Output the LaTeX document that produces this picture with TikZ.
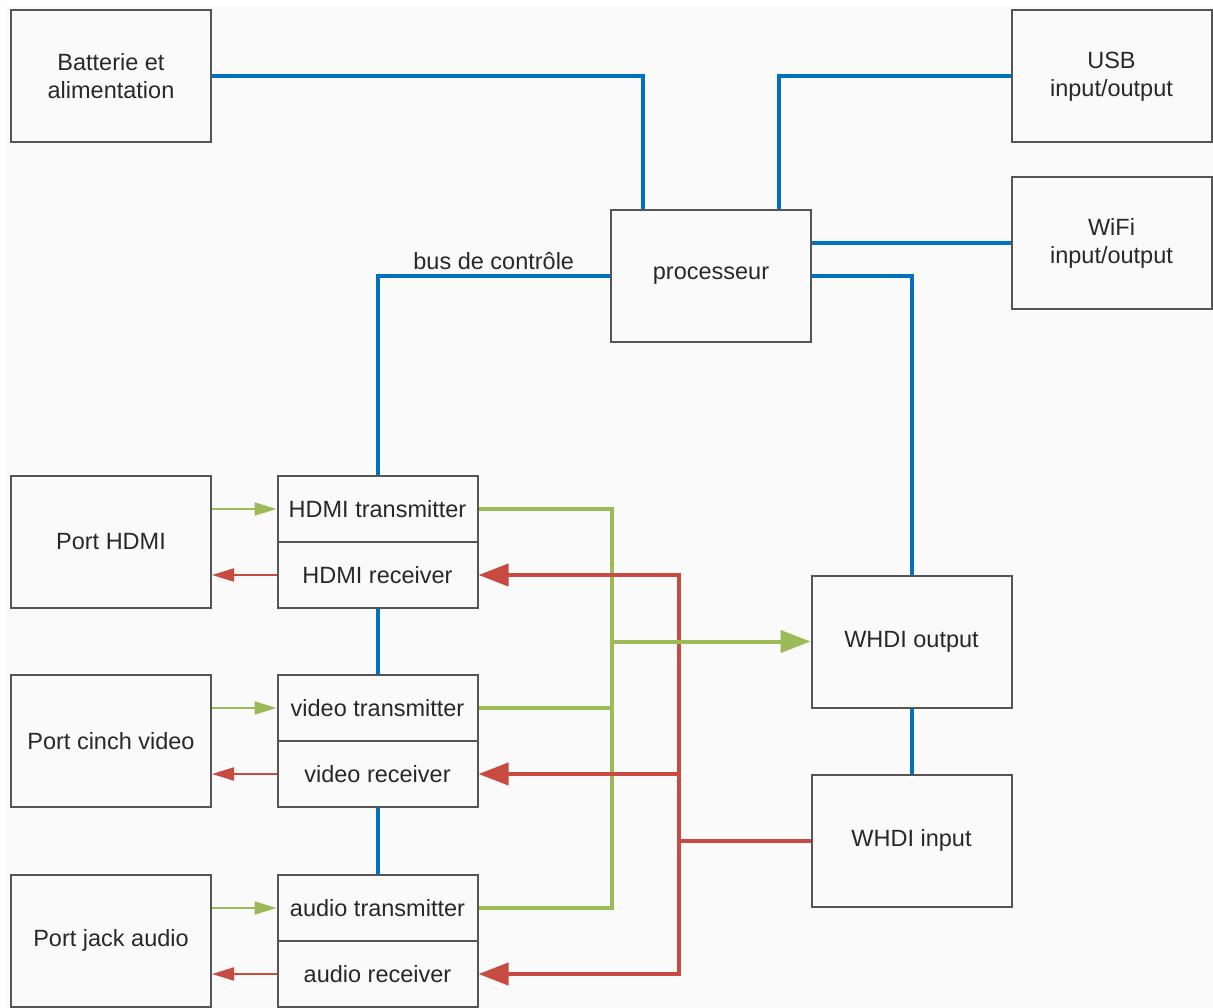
\documentclass[tikz,border=0pt]{standalone}
\usepackage{fontspec}
\setmainfont{Liberation Sans}
\usetikzlibrary{arrows.meta}
\definecolor{busblue}{RGB}{0,112,192}
\definecolor{sigred}{RGB}{200,75,65}
\definecolor{siggreen}{RGB}{155,187,89}
\definecolor{boxgray}{RGB}{85,85,85}
\definecolor{bggray}{RGB}{250,250,250}
\definecolor{textgray}{RGB}{40,40,40}
\begin{document}
\begin{tikzpicture}[x=1pt,y=-1pt,>=latex,
    blockbox/.style={draw=boxgray,line width=2pt,fill=bggray,text=textgray,minimum width=200pt,minimum height=132pt,
        inner sep=0pt,align=center,font=\fontsize{23.5}{28}\selectfont},
    halfbox/.style={blockbox,minimum height=66pt},
    bus/.style={busblue,line width=4pt},
    gsig/.style={siggreen,line width=4pt},
    rsig/.style={sigred,line width=4pt},
    gthin/.style={siggreen,line width=2pt},
    rthin/.style={sigred,line width=2pt},
    bigtip/.style={-{Triangle[length=30pt,width=22pt]}},
    bothtips/.style={{Triangle[length=30pt,width=22pt]}-{Triangle[length=30pt,width=22pt]}},
    smalltip/.style={-{Triangle[length=22pt,width=13pt]}}]
    \useasboundingbox (0,0) rectangle (1213,1008);
    \fill[bggray] (6,6) rectangle (1213,1008);
    % blocks
    \node[blockbox] (batt) at (111,76.5) {Batterie et\\alimentation};
    \node[blockbox] (usb) at (1111.5,76.5) {USB\\input/output};
    \node[blockbox] (wifi) at (1111.5,243) {WiFi\\input/output};
    \node[blockbox] (proc) at (711,276) {processeur};
    \node[blockbox] (porthdmi) at (111,542) {Port HDMI};
    \node[blockbox] (portvideo) at (111,741) {Port cinch video};
    \node[blockbox] (portaudio) at (111,940.5) {Port jack audio};
    \node[halfbox] (hdmitx) at (377.5,509) {HDMI transmitter};
    \node[halfbox] (hdmirx) at (377.5,575) {HDMI receiver};
    \node[halfbox] (videotx) at (377.5,708) {video transmitter};
    \node[halfbox] (videorx) at (377.5,774) {video receiver};
    \node[halfbox] (audiotx) at (377.5,908) {audio transmitter};
    \node[halfbox] (audiorx) at (377.5,974) {audio receiver};
    \node[blockbox] (whdiout) at (911.5,641.5) {WHDI output};
    \node[blockbox] (whdiin) at (911.5,840.5) {WHDI input};
    \coordinate (gx) at (612,0);
    \coordinate (rx) at (679,0);
    % bus
    \draw[bus] (batt.east) -| ([xshift=33pt]proc.north west);
    \draw[bus] (usb.west) -| ([xshift=-33pt]proc.north east);
    \draw[bus] (wifi.west) -- (wifi.west -| proc.east);
    \draw[bus] (proc.east) -| (whdiout.north);
    \draw[bus] (proc.west) -| node[pos=0.25,above=1pt,textgray,font=\fontsize{23.5}{28}\selectfont] (buslabel) {bus de contrôle} (hdmitx.north);
    \draw[bus] (hdmirx.south) -- (videotx.north);
    \draw[bus] (videorx.south) -- (audiotx.north);
    \draw[bus] (whdiout.south) -- (whdiin.north);
    % ports
    \foreach \p/\t/\r in {porthdmi/hdmitx/hdmirx,portvideo/videotx/videorx,portaudio/audiotx/audiorx}{
        \draw[gthin,smalltip] (\p.east |- \t.west) -- (\t.west);
        \draw[rthin,smalltip] (\r.west) -- (\p.east |- \r.west);
    }
    % green to WHDI
    \draw[gsig] (hdmitx.east) -| (gx |- audiotx.east) -- (audiotx.east);
    \draw[gsig] (videotx.east) -- (videotx.east -| gx);
    % red from WHDI
    \draw[rsig] (whdiin.west) -- (whdiin.west -| rx);
    \draw[rsig,bothtips] (hdmirx.east) -| (rx |- audiorx.east) -- (audiorx.east);
    \draw[rsig,bigtip] (rx |- videorx.east) -- (videorx.east);
    \draw[gsig,bigtip] (gx |- whdiout.west) -- (whdiout.west);
\end{tikzpicture}
\end{document}
